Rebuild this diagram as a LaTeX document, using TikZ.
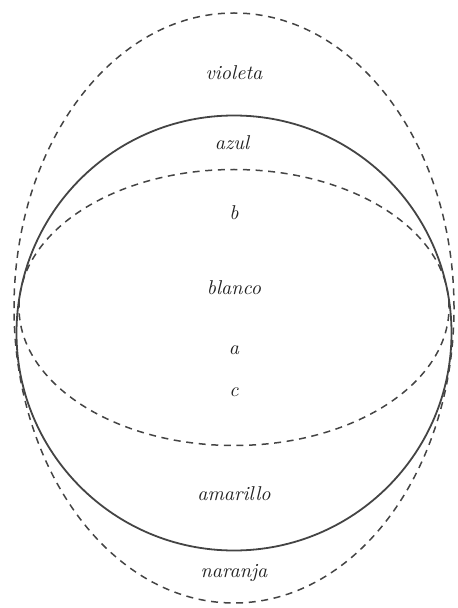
\documentclass[tikz,border=0pt]{standalone}
\usepackage{xcolor}
\usepackage{tikz}
\usetikzlibrary{positioning}
\definecolor{setGray}{HTML}{444444}
\definecolor{textGray}{HTML}{222222}
\tikzset{
  solidSet/.style={draw=setGray, line width=0.9pt},
  dashedSet/.style={draw=setGray, line width=0.75pt, dash pattern=on 3.5pt off 2.8pt},
  setLabel/.style={font=\itshape, text=textGray, inner sep=1pt}
}

\begin{document}
\begin{tikzpicture}[x=0.5pt, y=-0.5pt]
  \useasboundingbox (0,0) rectangle (457,608);
  \draw[dashedSet] (234,308) ellipse [x radius=110pt, y radius=147.5pt];
  \draw[solidSet] (234,333) circle [radius=108.75pt];
  \draw[dashedSet] (234,307.5) ellipse [x radius=107.5pt, y radius=69pt];
  \node[setLabel] (violeta) at (234,73) {violeta};
  \node[setLabel] (azul) at (232,143) {azul};
  \node[setLabel] (b) at (234,213) {b};
  \node[setLabel] (blanco) at (234,288) {blanco};
  \node[setLabel] (a) at (234,350) {a};
  \node[setLabel] (c) at (234,392) {c};
  \node[setLabel] (amarillo) at (234,494) {amarillo};
  \node[setLabel] (naranja) at (234,573) {naranja};
\end{tikzpicture}
\end{document}
